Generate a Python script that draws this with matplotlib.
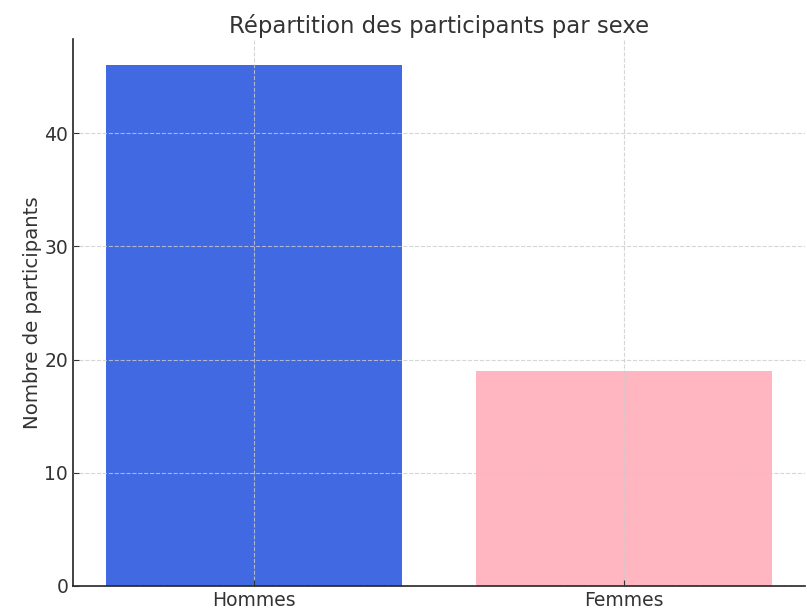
import matplotlib
matplotlib.use("Agg")
import matplotlib.pyplot as plt

# data
categories = ["Hommes", "Femmes"]
counts = [46, 19]
bar_colors = ["#4169E1", "#FFB6C1"]

fig = plt.figure(figsize=(8.07, 6.11), dpi=100)
ax = fig.add_axes([0.0905, 0.0414, 0.907, 0.894])

ax.bar(categories, counts, color=bar_colors, width=0.8, zorder=2)

ax.set_title("Répartition des participants par sexe", fontsize=16.4, color="#333333", pad=5)
ax.set_ylabel("Nombre de participants", fontsize=14.2, color="#333333", labelpad=2)

ax.grid(True, linestyle="--", color="#cccccc", linewidth=0.8, alpha=0.8, zorder=3)
ax.set_axisbelow(False)

for side in ["top", "right"]:
    ax.spines[side].set_visible(False)
for side in ["left", "bottom"]:
    ax.spines[side].set_color("#222222")
    ax.spines[side].set_linewidth(1.2)

ax.tick_params(direction="in", labelsize=13.5, colors="#333333", length=4)

fig.savefig("out.png", dpi=100, facecolor="white")
